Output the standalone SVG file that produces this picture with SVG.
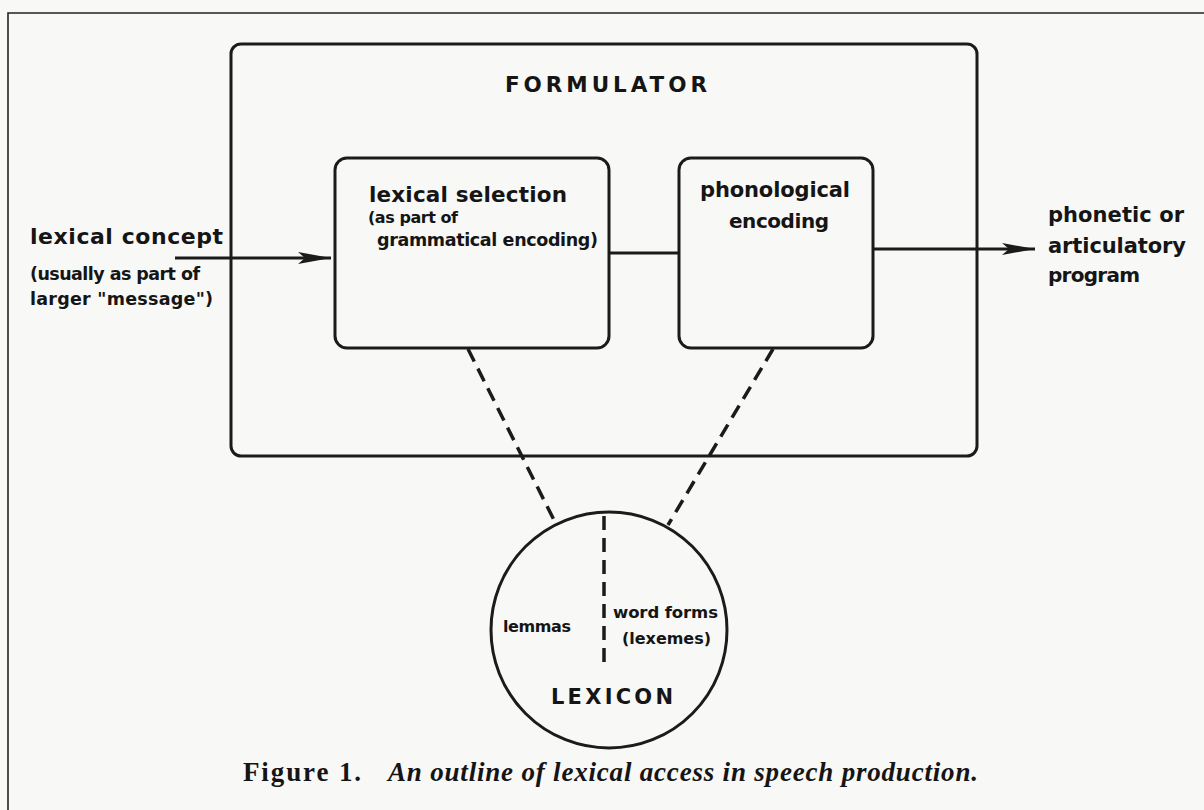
<svg xmlns="http://www.w3.org/2000/svg" width="1204" height="810" viewBox="0 0 1204 810">
  <defs>
    <style>
      .box { fill: none; stroke: #1b1b1b; stroke-width: 3; }
      .line { fill: none; stroke: #1b1b1b; stroke-width: 3; }
      .dash { fill: none; stroke: #1b1b1b; stroke-width: 3.5; stroke-dasharray: 14 8; }
      .frame { fill: none; stroke: #222; stroke-width: 1.6; }
      .t { font-family: "DejaVu Sans", "Liberation Sans", Arial, sans-serif; font-weight: bold; fill: #151515; }
      .cap { font-family: "Liberation Serif", "Times New Roman", serif; font-weight: bold; fill: #151515; }
    </style>
    <marker id="head" markerUnits="userSpaceOnUse" markerWidth="36" markerHeight="14" refX="33" refY="7" orient="auto">
      <path d="M0,1 L33,7 L0,13 L7,7 z" fill="#1b1b1b"/>
    </marker>
  </defs>

  <rect x="0" y="0" width="1204" height="810" fill="#f8f8f7"/>
  <path class="frame" d="M8,812 V13 H1206"/>

  <!-- connectors -->
  <g id="connectors">
    <line class="line" x1="175" y1="258" x2="331" y2="258" marker-end="url(#head)"/>
    <line class="line" x1="609" y1="253" x2="679" y2="253"/>
    <line class="line" x1="873" y1="249" x2="1035" y2="249" marker-end="url(#head)"/>
    <line class="dash" x1="468" y1="349" x2="555" y2="522"/>
    <line class="dash" x1="773" y1="349" x2="668" y2="525"/>
  </g>

  <!-- formulator container -->
  <g id="formulator">
    <rect class="box" x="231" y="44" width="746" height="412" rx="10"/>
    <text class="t" x="505" y="92" font-size="21.5" textLength="202">FORMULATOR</text>
  </g>

  <!-- input label -->
  <g id="lexical-concept">
    <text class="t" x="30" y="244" font-size="22" textLength="193">lexical concept</text>
    <text class="t" x="30" y="280" font-size="17.5" textLength="170">(usually as part of</text>
    <text class="t" x="30" y="305" font-size="17.5" textLength="183">larger "message")</text>
  </g>

  <!-- lexical selection box -->
  <g id="lexical-selection">
    <rect class="box" x="335" y="158" width="274" height="190" rx="12"/>
    <text class="t" x="369" y="202" font-size="21.5" textLength="198">lexical selection</text>
    <text class="t" x="368" y="223" font-size="16" textLength="90">(as part of</text>
    <text class="t" x="377" y="246" font-size="17.5" textLength="221">grammatical encoding)</text>
  </g>

  <!-- phonological encoding box -->
  <g id="phonological-encoding">
    <rect class="box" x="679" y="158" width="194" height="190" rx="12"/>
    <text class="t" x="700" y="197" font-size="21" textLength="150">phonological</text>
    <text class="t" x="729" y="228" font-size="20" textLength="100">encoding</text>
  </g>

  <!-- output label -->
  <g id="articulatory-program">
    <text class="t" x="1048" y="222" font-size="21" textLength="136">phonetic or</text>
    <text class="t" x="1048" y="253" font-size="21" textLength="138">articulatory</text>
    <text class="t" x="1048" y="282" font-size="20" textLength="92">program</text>
  </g>

  <!-- lexicon -->
  <g id="lexicon">
    <circle class="box" cx="609" cy="630" r="118"/>
    <line class="dash" x1="604" y1="516" x2="604" y2="666" stroke-width="3" stroke-dasharray="13 7"/>
    <text class="t" x="503" y="632" font-size="16" textLength="68">lemmas</text>
    <text class="t" x="613" y="618" font-size="16.5" textLength="105">word forms</text>
    <text class="t" x="622" y="644" font-size="16" textLength="89">(lexemes)</text>
    <text class="t" x="551" y="704" font-size="21" textLength="122">LEXICON</text>
  </g>

  <!-- caption -->
  <g id="caption">
    <text class="cap" x="243" y="781" font-size="27" textLength="118">Figure 1.</text>
    <text class="cap" x="388" y="781" font-size="27" font-style="italic" textLength="590">An outline of lexical access in speech production.</text>
  </g>
</svg>
